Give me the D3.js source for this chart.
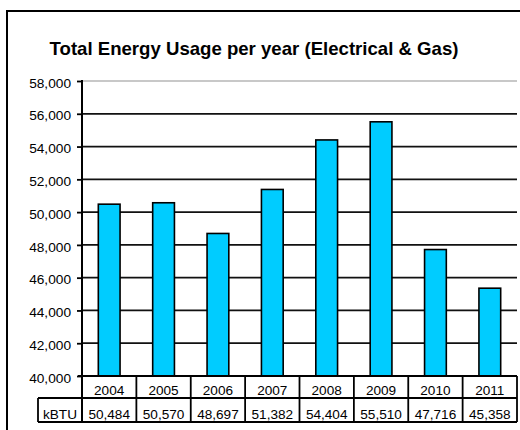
<!DOCTYPE html>
<html>
<head>
<meta charset="utf-8">
<script src="https://cdn.jsdelivr.net/npm/d3@7"></script>
<style>
  html, body { margin: 0; padding: 0; background: #fff; overflow: hidden; }
  svg { display: block; }
  text { font-family: "Liberation Sans", Arial, sans-serif; fill: #000; }
</style>
</head>
<body>
<svg id="chart" width="520" height="430"></svg>
<script>
const title = "Total Energy Usage per year (Electrical & Gas)";
const years = ["2004", "2005", "2006", "2007", "2008", "2009", "2010", "2011"];
const kbtu = [50484, 50570, 48697, 51382, 54404, 55510, 47716, 45358];
const seriesName = "kBTU";
const yTicks = [40000, 42000, 44000, 46000, 48000, 50000, 52000, 54000, 56000, 58000];

(function () {
const svg = d3.select("#chart");
const pLeft = 82, pRight = 517, pTop = 81, pBottom = 376;
const row1 = 398, row2 = 422;
const fmt = d3.format(",");

// outer chart frame (left and top edges visible)
svg.append("path")
  .attr("d", `M7,440V11H530`)
  .attr("fill", "none").attr("stroke", "#000").attr("stroke-width", 2);

svg.append("text")
  .attr("x", 254).attr("y", 54.5)
  .attr("text-anchor", "middle")
  .style("font-size", "18.6px").style("font-weight", "bold")
  .text(title);

const y = d3.scaleLinear().domain([40000, 58000]).range([pBottom, pTop]);
const x = d3.scaleBand().domain(years).range([pLeft, pRight]).paddingInner(0.6).paddingOuter(0.3);
const xc = d3.scaleBand().domain(years).range([pLeft, pRight]).padding(0);

// plot area top edge (light gray)
svg.append("line")
  .attr("x1", pLeft).attr("x2", pRight).attr("y1", y(58000)).attr("y2", y(58000))
  .attr("stroke", "#c8c8c8").attr("stroke-width", 2);

// gridlines
svg.append("g").selectAll("line")
  .data(yTicks.filter(d => d > 40000 && d < 58000))
  .join("line")
  .attr("x1", pLeft).attr("x2", pRight)
  .attr("y1", d => y(d)).attr("y2", d => y(d))
  .attr("stroke", "#111").attr("stroke-width", 1.8);

// y axis
const yAxis = d3.axisLeft(y).tickValues(yTicks).tickSize(5).tickPadding(6).tickFormat(fmt);
const gy = svg.append("g").attr("transform", `translate(${pLeft},0)`).call(yAxis);
gy.attr("font-size", null).attr("font-family", null);
gy.select(".domain").remove();
gy.selectAll(".tick line").attr("stroke", "#000").attr("stroke-width", 1.8);
gy.selectAll(".tick text")
  .style("font-size", "13.7px")
  .attr("fill", "#000").attr("dy", "0.45em");

// bars
svg.append("g").selectAll("rect")
  .data(years)
  .join("rect")
  .attr("x", (d) => x(d))
  .attr("width", x.bandwidth())
  .attr("y", (d, i) => y(kbtu[i]))
  .attr("height", (d, i) => y(40000) - y(kbtu[i]))
  .attr("fill", "#00CCFF").attr("stroke", "#000").attr("stroke-width", 1.6);

// y axis line
svg.append("line")
  .attr("x1", pLeft).attr("x2", pLeft).attr("y1", pTop - 1).attr("y2", row2)
  .attr("stroke", "#000").attr("stroke-width", 2);

// data table
const tg = svg.append("g");
function hline(x1, x2, yy) {
  tg.append("line").attr("x1", x1).attr("x2", x2).attr("y1", yy).attr("y2", yy)
    .attr("stroke", "#000").attr("stroke-width", 1.8);
}
function vline(xx, y1, y2) {
  tg.append("line").attr("x1", xx).attr("x2", xx).attr("y1", y1).attr("y2", y2)
    .attr("stroke", "#000").attr("stroke-width", 1.8);
}
hline(pLeft - 4, pRight, pBottom);
hline(38, pRight, row1);
hline(38, pRight, row2);
vline(38, row1, row2);
years.forEach(d => vline(xc(d) + xc.bandwidth(), pBottom, row2));

tg.selectAll("text.yr")
  .data(years)
  .join("text")
  .attr("class", "yr")
  .attr("x", d => xc(d) + xc.bandwidth() / 2)
  .attr("y", 395)
  .attr("text-anchor", "middle")
  .style("font-size", "13.6px")
  .text(d => d);

tg.selectAll("text.val")
  .data(years)
  .join("text")
  .attr("class", "val")
  .attr("x", d => xc(d) + xc.bandwidth() / 2)
  .attr("y", 419)
  .attr("text-anchor", "middle")
  .style("font-size", "13.6px")
  .text((d, i) => fmt(kbtu[i]));

tg.append("text")
  .attr("x", (38 + pLeft) / 2).attr("y", 419)
  .attr("text-anchor", "middle")
  .style("font-size", "13.6px")
  .text(seriesName);
})();
</script>
</body>
</html>
